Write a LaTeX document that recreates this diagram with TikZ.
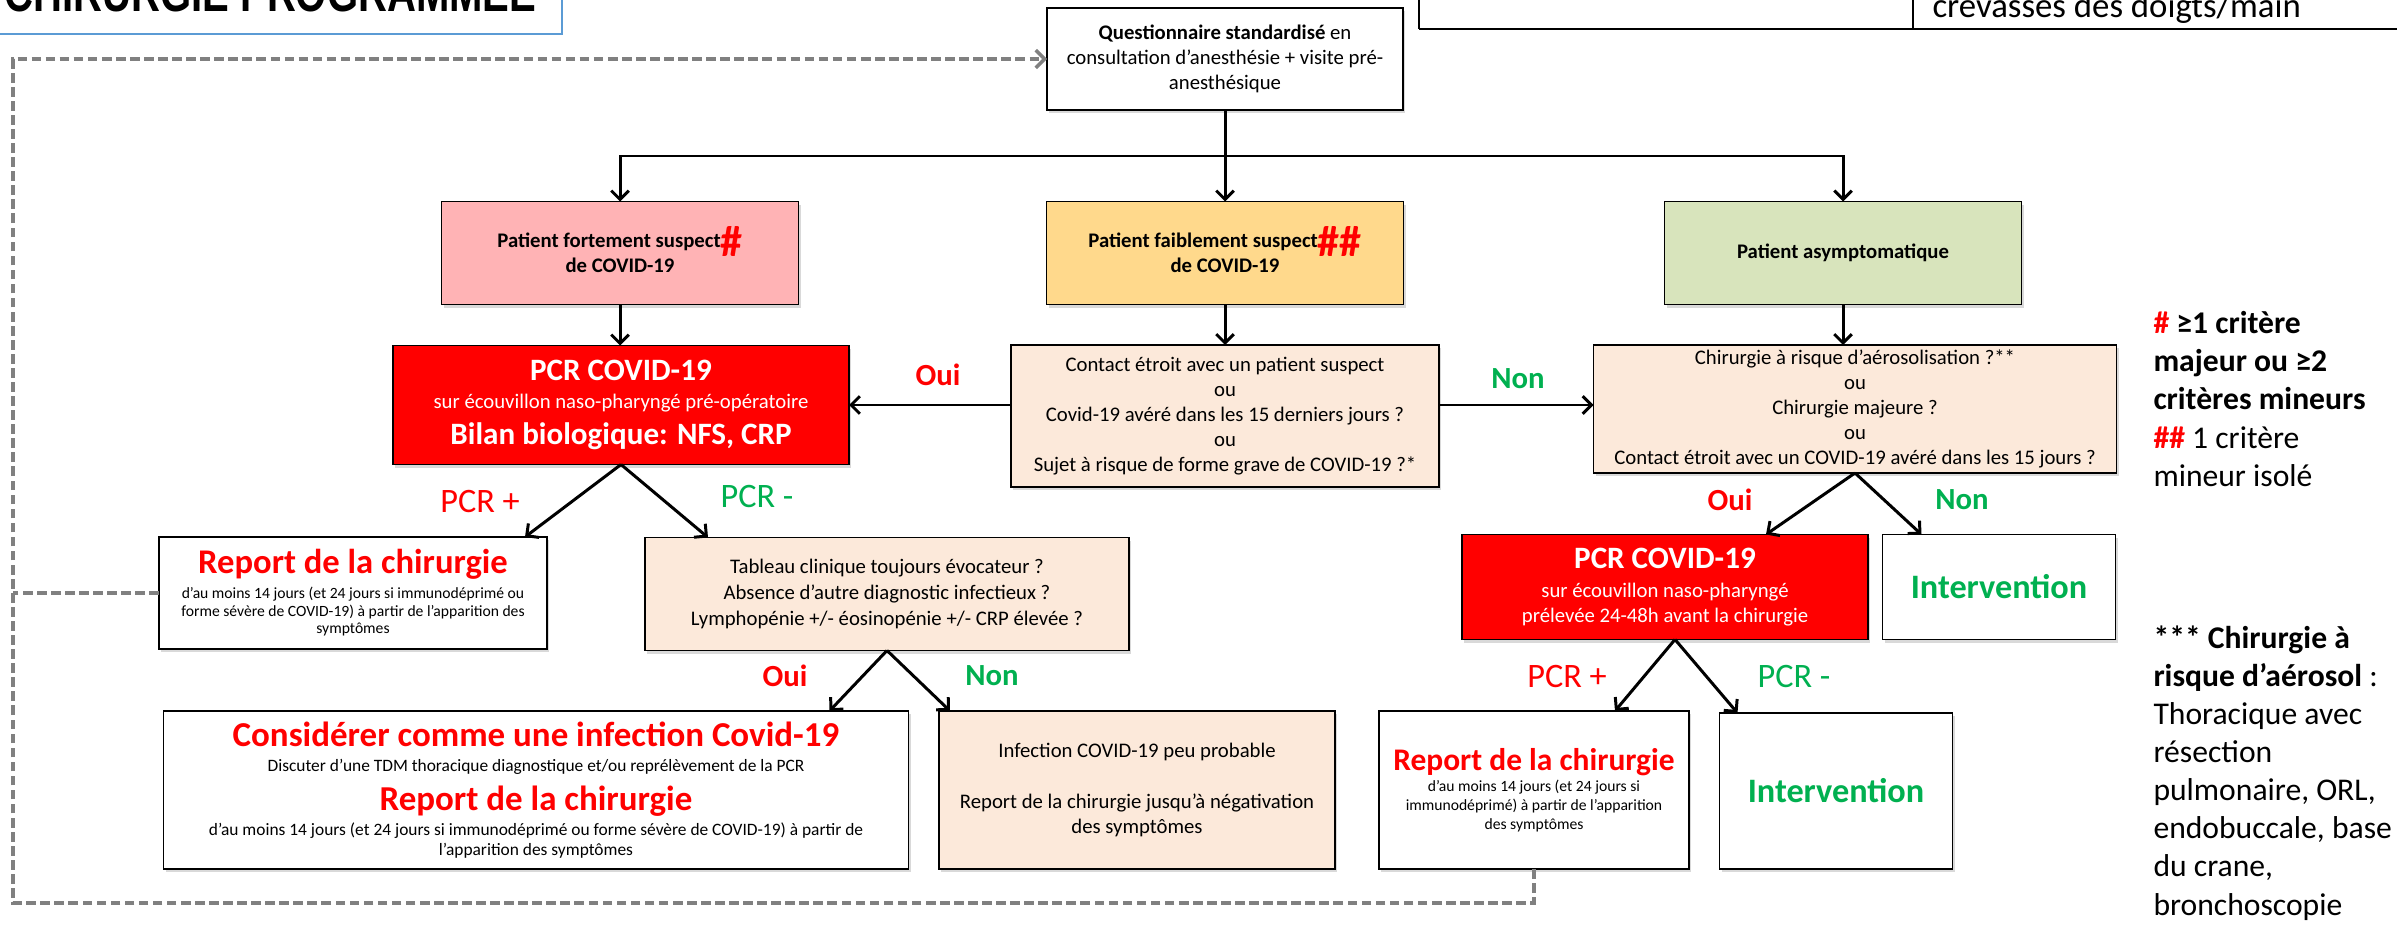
\documentclass[tikz,border=0pt]{standalone}
\usepackage{fontspec}
\usepackage{graphicx}
\setmainfont{Carlito}
\newfontfamily\titlefont{Liberation Sans}
\usetikzlibrary{arrows.meta,calc,shadows}

\definecolor{susRed}{RGB}{255,0,0}
\definecolor{okGreen}{RGB}{0,176,80}
\definecolor{pinkFill}{RGB}{255,179,181}
\definecolor{yellowFill}{RGB}{255,217,140}
\definecolor{greenFill}{RGB}{216,228,188}
\definecolor{peachFill}{RGB}{252,233,218}
\definecolor{loopGrey}{RGB}{128,128,128}
\definecolor{titleBlue}{RGB}{91,155,213}

\newcommand{\fsize}[2]{\fontsize{#1}{#2}\selectfont\lineskiplimit=-20pt\relax}
\newcommand{\bigW}{\fontsize{17.7}{20}\selectfont\bfseries}
\newcommand{\redHead}[1]{\fontsize{#1}{#1}\selectfont\bfseries\color{susRed}}
\newcommand{\hashes}[1]{\smash{\raisebox{-5pt}{\textcolor{susRed}{\fontsize{25}{25}\selectfont\bfseries #1}}}}

\begin{document}
\begin{tikzpicture}[x=0.02cm,y=-0.02cm,->,>={Straight Barb[length=5pt,width=10pt]},line width=1.7pt,
  box/.style={rectangle,draw,line width=1pt,align=center,inner sep=1pt,outer sep=0pt,
  font=\fsize{11.8}{14.3},drop shadow={shadow xshift=1.3pt,shadow yshift=-1.8pt,opacity=0.3}},
  sz/.style 2 args={minimum width=#1*0.02cm,minimum height=#2*0.02cm},
  peach box/.style={box,fill=peachFill},
  red box/.style={box,fill=susRed,text=white},
  white box/.style={box,fill=white},
  go box/.style={white box,font=\fsize{19.5}{22}\bfseries,text=okGreen},
  yes label/.style={font=\fsize{17.5}{20}\bfseries,text=susRed},
  no label/.style={font=\fsize{17.5}{20}\bfseries,text=okGreen},
  pos label/.style={font=\fsize{19.5}{22},text=susRed},
  neg label/.style={font=\fsize{19.5}{22},text=okGreen},
  note/.style={align=left,anchor=north west,inner sep=0pt,font=\fsize{18}{21.7}},
  loop/.style={draw=loopGrey,line width=2pt,dash pattern=on 5.5pt off 2.5pt}]

  \useasboundingbox (0,0) rectangle (2397,925);
  \clip (0,0) rectangle (2397,925);

  %Title and table cut at the top%
  \draw[-,titleBlue,line width=0.9pt] (-10,-10) rectangle (562,34);
  \node[anchor=base west,inner sep=0pt,font=\titlefont\bfseries\fontsize{30}{30}\selectfont]
    (title) at (3,12) {\scalebox{0.76}[1]{CHIRURGIE PROGRAMMEE}};
  \draw[-,line width=0.6pt] (1419,-10) -- (1419,29);
  \draw[-,line width=0.6pt] (1913,-10) -- (1913,29);
  \draw[-,line width=1.4pt] (1419,29) -- (2410,29);
  \node[anchor=base west,inner sep=0pt,font=\fsize{19.8}{22}] (crevasses) at (1931,18)
    {crevasses des doigts/main};

  %First level%
  \node[white box,sz={356}{102}] (quest) at (1225,59)
    {\textbf{Questionnaire standardisé} en\\consultation d’anesthésie + visite pré-\\anesthésique};
  \node[box,fill=pinkFill,sz={357}{103},font=\fsize{11.8}{14.2}\bfseries] (fort) at (620,253)
    {Patient fortement suspect\hashes{\#}\\de COVID-19};
  \node[box,fill=yellowFill,sz={357}{103},font=\fsize{11.8}{14.2}\bfseries] (faible) at (1225,253)
    {Patient faiblement suspect\hashes{\#\#}\\de COVID-19};
  \node[box,fill=greenFill,sz={357}{103},font=\fsize{11.8}{14.2}\bfseries] (asympt) at (1843,253)
    {Patient asymptomatique};

  %Second level%
  \node[red box,sz={456}{119}] (pcrA) at (621,405)
    {{\bigW PCR COVID-19}\\[1.7pt]sur écouvillon naso-pharyngé pré-opératoire\\[6.3pt]{\bigW Bilan biologique: NFS, CRP}};
  \node[peach box,sz={428}{142}] (contactQ) at (1225,416)
    {Contact étroit avec un patient suspect\\ou\\Covid-19 avéré dans les 15 derniers jours ?\\ou\\Sujet à risque de forme grave de COVID-19 ?*};
  \node[peach box,sz={523}{128}] (chirQ) at (1855,409)
    {Chirurgie à risque d’aérosolisation ?**\\ou\\Chirurgie majeure ?\\ou\\Contact étroit avec un COVID-19 avéré dans les 15 jours ?};

  %Third level%
  \node[white box,sz={388}{112},font=\fsize{8.9}{10}] (reportA) at (353,593)
    {{\redHead{19.7}Report de la chirurgie}\\[4.2pt]d’au moins 14 jours (et 24 jours si immunodéprimé ou\\forme sévère de COVID-19) à partir de l’apparition des\\symptômes};
  \node[peach box,sz={484}{113},font=\fsize{11.8}{14.6}] (tableau) at (887,594)
    {Tableau clinique toujours évocateur ?\\Absence d’autre diagnostic infectieux ?\\Lymphopénie +/- éosinopénie +/- CRP élevée ?};
  \node[red box,sz={406}{105}] (pcrB) at (1665,587)
    {{\bigW PCR COVID-19}\\[2.3pt]sur écouvillon naso-pharyngé\\prélevée 24-48h avant la chirurgie};
  \node[go box,sz={233}{105}] (interA) at (1999,587) {Intervention};

  %Fourth level%
  \node[white box,sz={745}{158},font=\fsize{9.9}{11.4}] (considerer) at (536,790)
    {{\redHead{19.9}Considérer comme une infection Covid-19}\\[2.5pt]Discuter d’une TDM thoracique diagnostique et/ou reprélèvement de la PCR\\[11.1pt]{\redHead{19.9}Report de la chirurgie}\\[2.5pt]d’au moins 14 jours (et 24 jours si immunodéprimé ou forme sévère de COVID-19) à partir de\\l’apparition des symptômes};
  \node[peach box,sz={396}{158},font=\fsize{11.8}{14.5}] (peuProb) at (1137,790)
    {Infection COVID-19 peu probable\\\mbox{}\\Report de la chirurgie jusqu’à négativation\\des symptômes};
  \node[white box,sz={310}{158},font=\fsize{8.9}{10.8}] (reportB) at (1534,790)
    {{\redHead{17.9}Report de la chirurgie}\\[1.2pt]d’au moins 14 jours (et 24 jours si\\immunodéprimé) à partir de l’apparition\\des symptômes};
  \node[go box,sz={233}{156}] (interB) at (1836,791) {Intervention};

  %Notes on the right%
  \node[note] (notesCrit) at (2152,310)
    {\textbf{\textcolor{susRed}{\#} ≥1 critère}\\\textbf{majeur ou ≥2}\\\textbf{critères mineurs}\\\textbf{\textcolor{susRed}{\#\#}} 1 critère\\mineur isolé};
  \node[note] (notesAero) at (2152,624)
    {\textbf{*** Chirurgie à}\\\textbf{risque d’aérosol} :\\Thoracique avec\\résection\\pulmonaire, ORL,\\endobuccale, base\\du crane,\\bronchoscopie};

  %Questionnaire to the three patient groups%
  \coordinate (split) at (1225,156);
  \draw (quest) -- (faible);
  \draw (split) -| (fort);
  \draw (split) -| (asympt);

  \draw (fort.south) -- (fort.south |- pcrA.north);
  \draw (faible.south) -- (faible.south |- contactQ.north);
  \draw (asympt.south) -- (asympt.south |- chirQ.north);

  %Contact question%
  \draw (contactQ.west |- pcrA.east) -- (pcrA.east);
  \draw (contactQ.east |- pcrA.east) -- (chirQ.west |- pcrA.east);
  \node[yes label] (ouiA) at (938,375) {Oui};
  \node[no label] (nonA) at (1518,379) {Non};

  %PCR results, left%
  \draw (pcrA.south) -- ($(reportA.north east)+(-22,0)$);
  \draw (pcrA.south) -- ($(tableau.north west)+(63,0)$);
  \node[pos label] (posA) at (480,502) {PCR +};
  \node[neg label] (negA) at (757,497) {PCR -};

  \draw (tableau.south) -- ($(considerer.north east)+(-79,0)$);
  \draw (tableau.south) -- ($(peuProb.north west)+(11,0)$);
  \node[yes label] (ouiB) at (785,676) {Oui};
  \node[no label] (nonB) at (992,676) {Non};

  %Asymptomatic branch%
  \draw (chirQ.south) -- ($(pcrB.north east)+(-102,0)$);
  \draw (chirQ.south) -- ($(interA.north west)+(39,0)$);
  \node[yes label] (ouiC) at (1730,500) {Oui};
  \node[no label] (nonC) at (1962,500) {Non};

  \draw ($(pcrB.south)+(10,0)$) -- ($(reportB.north east)+(-74,0)$);
  \draw ($(pcrB.south)+(10,0)$) -- ($(interB.north west)+(18,0)$);
  \node[pos label] (posB) at (1567,676) {PCR +};
  \node[neg label] (negB) at (1794,676) {PCR -};

  %Dashed loop back to the questionnaire%
  \coordinate (loopTop) at (13,59);
  \coordinate (loopBot) at (13,903);
  \draw[loop] (reportB.south) |- (loopBot) -- (loopTop) -- (quest.west);
  \draw[loop,-] (reportA.west) -- (reportA.west -| loopTop);
  \draw[loop,-] ($(considerer.west)+(0,-22)$) -- ($(considerer.west)+(0,-22)$ -| loopTop);

\end{tikzpicture}
\end{document}
